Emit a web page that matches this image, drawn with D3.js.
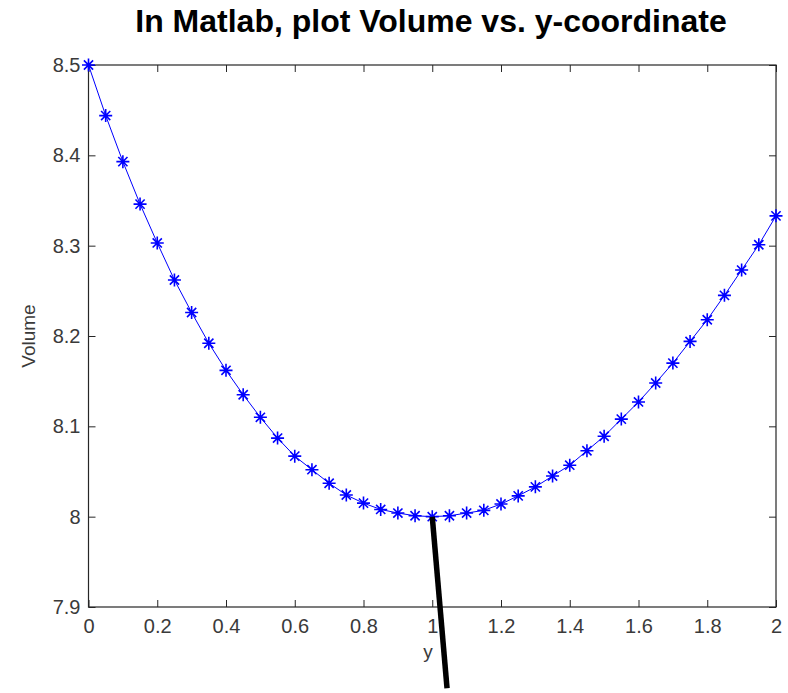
<!DOCTYPE html>
<html>
<head>
<meta charset="utf-8">
<script src="https://cdn.jsdelivr.net/npm/d3@7"></script>
<style>
  body { margin: 0; background: #fff; }
  svg { display: block; }
</style>
</head>
<body>
<svg></svg>
<script>
var width = 788;
var height = 693;

// y-coordinate (x axis) and Volume values
var yCoord = [0, 0.05, 0.1, 0.15, 0.2, 0.25, 0.3, 0.35, 0.4, 0.45, 0.5,
              0.55, 0.6, 0.65, 0.7, 0.75, 0.8, 0.85, 0.9, 0.95, 1,
              1.05, 1.1, 1.15, 1.2, 1.25, 1.3, 1.35, 1.4, 1.45, 1.5,
              1.55, 1.6, 1.65, 1.7, 1.75, 1.8, 1.85, 1.9, 1.95, 2];
var volume = [8.5, 8.444, 8.393, 8.346, 8.303, 8.262, 8.226, 8.192, 8.162, 8.135, 8.110,
              8.087, 8.067, 8.052, 8.037, 8.024, 8.015, 8.008, 8.004, 8.001, 8.0,
              8.001, 8.004, 8.007, 8.014, 8.023, 8.033, 8.045, 8.057, 8.073, 8.089,
              8.108, 8.127, 8.148, 8.170, 8.194, 8.218, 8.245, 8.273, 8.301, 8.333];

var xTicks = [0, 0.2, 0.4, 0.6, 0.8, 1, 1.2, 1.4, 1.6, 1.8, 2];
var yTicks = [7.9, 8, 8.1, 8.2, 8.3, 8.4, 8.5];

// hand-drawn pointer at the minimum, in data units
var pointer = [{ x: 1, y: 8.0 }, { x: 1.043, y: 7.81 }];

var points = yCoord.map((d, i) => ({ x: d, y: volume[i] }));

var margin = { top: 65, right: 12, bottom: 86, left: 88.5 };
var plotW = width - margin.left - margin.right;
var plotH = height - margin.top - margin.bottom;

var svg = d3.select("svg")
              .attr("width", width)
              .attr("height", height);

var x = d3.scaleLinear().domain([0, 2]).range([margin.left, margin.left + plotW]);
var y = d3.scaleLinear().domain([7.9, 8.5]).range([margin.top + plotH, margin.top]);

var fmt = d => d3.format("")(+d.toFixed(1));
var axisColor = "#262626";
var labelColor = "#3a3a3a";
var font = "Arial, 'Liberation Sans', sans-serif";
var tickLen = 7;

function styleAxis(g) {
  g.selectAll("path").remove();
  g.selectAll("line").attr("stroke", axisColor).attr("stroke-width", 1);
  g.selectAll("text")
    .attr("fill", labelColor)
    .style("font-family", font)
    .style("font-size", "20px");
}

// bottom / left axes with inward ticks
svg.append("g")
    .attr("transform", `translate(0,${margin.top + plotH})`)
    .call(d3.axisBottom(x).tickValues(xTicks).tickFormat(fmt).tickSizeInner(-tickLen).tickSizeOuter(0).tickPadding(12))
    .call(styleAxis);

svg.append("g")
    .attr("transform", `translate(${margin.left},0)`)
    .call(d3.axisLeft(y).tickValues(yTicks).tickFormat(fmt).tickSizeInner(-tickLen).tickSizeOuter(0).tickPadding(8))
    .call(styleAxis);

// top / right ticks without labels
svg.append("g")
    .attr("transform", `translate(0,${margin.top})`)
    .call(d3.axisTop(x).tickValues(xTicks).tickFormat("").tickSizeInner(-tickLen).tickSizeOuter(0))
    .call(styleAxis);

svg.append("g")
    .attr("transform", `translate(${margin.left + plotW},0)`)
    .call(d3.axisRight(y).tickValues(yTicks).tickFormat("").tickSizeInner(-tickLen).tickSizeOuter(0))
    .call(styleAxis);

// box
svg.append("rect")
    .attr("x", margin.left)
    .attr("y", margin.top)
    .attr("width", plotW)
    .attr("height", plotH)
    .attr("fill", "none")
    .attr("stroke", axisColor)
    .attr("stroke-width", 1.2);

// data line
var line = d3.line().x(d => x(d.x)).y(d => y(d.y));

svg.append("path")
    .datum(points)
    .attr("d", line)
    .attr("fill", "none")
    .attr("stroke", "#0000ff")
    .attr("stroke-width", 1);

// asterisk markers
var r1 = 6.5, r2 = 4.6;
var star = `M${-r1},0L${r1},0M0,${-r1}L0,${r1}M${-r2},${-r2}L${r2},${r2}M${-r2},${r2}L${r2},${-r2}`;

svg.selectAll("path.marker")
    .data(points)
    .enter()
    .append("path")
      .attr("class", "marker")
      .attr("transform", d => `translate(${x(d.x)},${y(d.y)})`)
      .attr("d", star)
      .attr("fill", "none")
      .attr("stroke", "#0000ff")
      .attr("stroke-width", 1.6);

// black pointer line
svg.append("line")
    .attr("x1", x(pointer[0].x))
    .attr("y1", y(pointer[0].y))
    .attr("x2", x(pointer[1].x))
    .attr("y2", y(pointer[1].y))
    .attr("stroke", "#000")
    .attr("stroke-width", 5.5);

// title and axis labels
svg.append("text")
    .attr("x", 431)
    .attr("y", 32)
    .attr("text-anchor", "middle")
    .style("font-family", font)
    .style("font-weight", "bold")
    .style("font-size", "32px")
    .text("In Matlab, plot Volume vs. y-coordinate");

svg.append("text")
    .attr("x", 428)
    .attr("y", 658)
    .attr("text-anchor", "middle")
    .attr("fill", labelColor)
    .style("font-family", font)
    .style("font-size", "19px")
    .text("y");

svg.append("text")
    .attr("transform", `translate(35,${margin.top + plotH / 2}) rotate(-90)`)
    .attr("text-anchor", "middle")
    .attr("fill", labelColor)
    .style("font-family", font)
    .style("font-size", "19px")
    .text("Volume");
</script>
</body>
</html>
